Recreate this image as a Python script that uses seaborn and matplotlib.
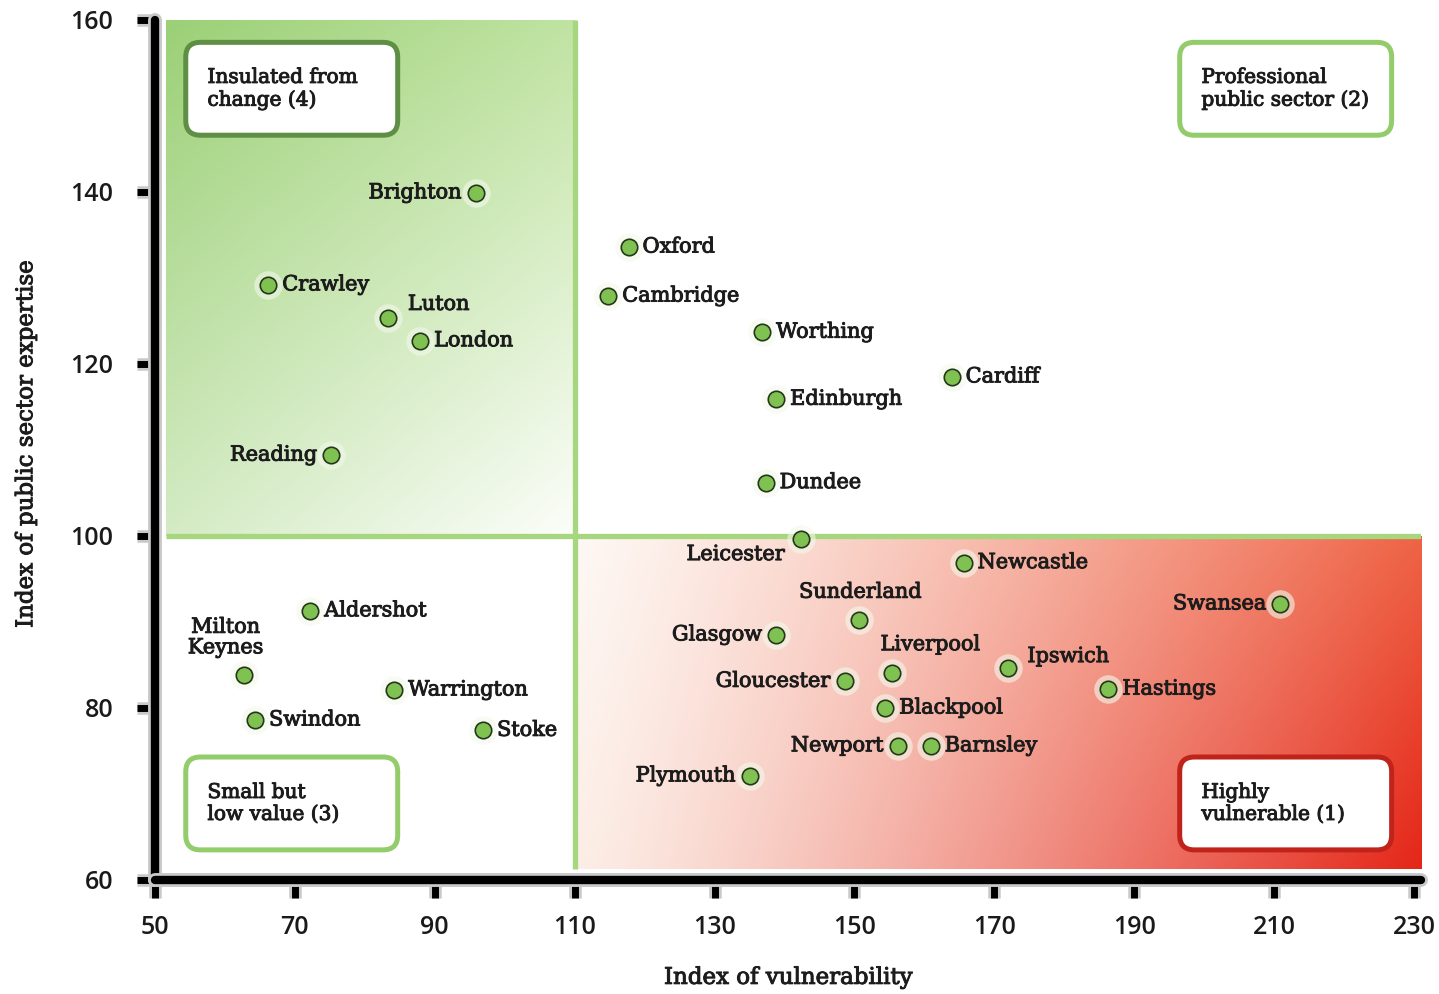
import matplotlib
matplotlib.use('Agg')
import matplotlib.pyplot as plt
import matplotlib.patheffects as pe
from matplotlib.patches import FancyBboxPatch
import numpy as np
import pandas as pd
import seaborn as sns

# values
cities = ['Brighton', 'Oxford', 'Cambridge', 'Crawley', 'Luton', 'London',
          'Worthing', 'Cardiff', 'Edinburgh', 'Reading', 'Dundee', 'Leicester',
          'Newcastle', 'Swansea', 'Aldershot', 'Sunderland', 'Glasgow',
          'Milton\nKeynes', 'Liverpool', 'Ipswich', 'Gloucester', 'Hastings',
          'Warrington', 'Blackpool', 'Swindon', 'Stoke', 'Newport', 'Barnsley',
          'Plymouth']
vulnerability = [95.9, 117.7, 114.8, 66.2, 83.3, 87.9,
                 136.8, 163.9, 138.8, 75.2, 137.3, 142.4,
                 165.6, 210.9, 72.2, 150.7, 138.8,
                 62.7, 155.3, 172.0, 148.6, 186.3,
                 84.2, 154.4, 64.3, 96.9, 156.2, 160.9,
                 135.1]
expertise = [139.9, 133.6, 127.9, 129.2, 125.3, 122.7,
             123.7, 118.5, 115.9, 109.4, 106.2, 99.7,
             96.9, 92.1, 91.3, 90.2, 88.5,
             83.8, 84.1, 84.7, 83.1, 82.2,
             82.1, 80.0, 78.6, 77.4, 75.6, 75.6,
             72.1]

quadrant_names = ['Insulated from\nchange (4)', 'Professional\npublic sector (2)',
                  'Small but\nlow value (3)', 'Highly\nvulnerable (1)']
x_ticks = [50, 70, 90, 110, 130, 150, 170, 190, 210, 230]
y_ticks = [60, 80, 100, 120, 140, 160]
x_split = 110
y_split = 100

df = pd.DataFrame({'city': cities, 'x': vulnerability, 'y': expertise})

# label placement: offset in pixels (dx, dy), ha, va
lab = {
    'Brighton': (-14, 0, 'right', 'center'),
    'Oxford': (14, 0, 'left', 'center'),
    'Cambridge': (14, 0, 'left', 'center'),
    'Crawley': (14, 0, 'left', 'center'),
    'Luton': (20, 14, 'left', 'center'),
    'London': (14, 0, 'left', 'center'),
    'Worthing': (14, 0, 'left', 'center'),
    'Cardiff': (14, 0, 'left', 'center'),
    'Edinburgh': (14, 0, 'left', 'center'),
    'Reading': (-14, 0, 'right', 'center'),
    'Dundee': (14, 0, 'left', 'center'),
    'Leicester': (-16, -16, 'right', 'center'),
    'Newcastle': (14, 0, 'left', 'center'),
    'Swansea': (-14, 0, 'right', 'center'),
    'Aldershot': (14, 0, 'left', 'center'),
    'Sunderland': (1, 28, 'center', 'center'),
    'Glasgow': (-14, 0, 'right', 'center'),
    'Milton\nKeynes': (-18, 18, 'center', 'bottom'),
    'Liverpool': (-11, 28, 'left', 'center'),
    'Ipswich': (19, 11, 'left', 'center'),
    'Gloucester': (-14, 0, 'right', 'center'),
    'Hastings': (14, 0, 'left', 'center'),
    'Warrington': (14, 0, 'left', 'center'),
    'Blackpool': (14, 0, 'left', 'center'),
    'Swindon': (14, 0, 'left', 'center'),
    'Stoke': (14, 0, 'left', 'center'),
    'Newport': (-14, 0, 'right', 'center'),
    'Barnsley': (14, 0, 'left', 'center'),
    'Plymouth': (-14, 0, 'right', 'center'),
}

sns.set_theme(style='white')
plt.rcParams['font.family'] = ['DejaVu Serif']

fig = plt.figure(figsize=(14.39, 9.94), dpi=100)
ax = fig.add_axes([0.1077, 0.1147, 0.8798, 0.8652])
xmin, xmax, ymin, ymax = 50, 231, 60, 160

# slightly heavier text, like the slab face of the original
heavy = [pe.withStroke(linewidth=0.7, foreground='#1c1c1c')]


def corner_gradient(tl, tr, bl, br, gamma=1.0, n=300):
    u = np.linspace(0, 1, n) ** gamma
    v = np.linspace(0, 1, n)
    U, V = np.meshgrid(u, v)
    tl, tr, bl, br = [np.array(c) / 255.0 for c in (tl, tr, bl, br)]
    img = ((1 - U)[..., None] * (1 - V)[..., None] * tl + U[..., None] * (1 - V)[..., None] * tr
           + (1 - U)[..., None] * V[..., None] * bl + U[..., None] * V[..., None] * br)
    return np.clip(img, 0, 1)


green = corner_gradient((155, 208, 118), (192, 227, 162), (212, 235, 196), (252, 254, 250))
ax.imshow(green, extent=(51.6, x_split, y_split, ymax), aspect='auto', zorder=0,
          interpolation='bilinear')
red = corner_gradient((254, 248, 244), (238, 100, 70), (252, 238, 230), (228, 38, 24), gamma=1.2)
ax.imshow(red, extent=(x_split, xmax, 61.3, y_split), aspect='auto', zorder=0,
          interpolation='bilinear')

line_col = '#a6d67e'
ax.plot([51.6, xmax], [y_split, y_split], color=line_col, lw=3.8, zorder=1, solid_capstyle='butt')
ax.plot([x_split, x_split], [61.3, ymax], color=line_col, lw=3.8, zorder=1, solid_capstyle='butt')

# quadrant boxes
box_pos = [(54.4, 146.6), (196.5, 146.6), (54.4, 63.5), (196.5, 63.5)]
box_edges = ['#5e8f45', '#93cc6a', '#93cc6a', '#c0231a']
bw, bh = 30.3, 10.8
for name, (bx, by), ec in zip(quadrant_names, box_pos, box_edges):
    patch = FancyBboxPatch((bx, by), bw, bh,
                           boxstyle='round,pad=0,rounding_size=2.1',
                           mutation_aspect=0.813, fc='white', ec=ec, lw=3.6, zorder=2)
    ax.add_patch(patch)
    ax.text(bx + 3.1, by + bh / 2, name, ha='left', va='center', fontsize=14.5,
            color='#1c1c1c', linespacing=1.2, zorder=3, path_effects=heavy)

# points with pale halo
sns.scatterplot(data=df, x='x', y='y', s=420, color='#f2f9ea', alpha=0.6,
                linewidth=0, ax=ax, zorder=3, legend=False)
sns.scatterplot(data=df, x='x', y='y', s=140, color='#7fc251',
                edgecolor='#26361c', linewidth=1.2, ax=ax, zorder=4, legend=False)

for c, x, y in zip(cities, vulnerability, expertise):
    dx, dy, ha, va = lab[c]
    ax.annotate(c, (x, y), xytext=(dx, dy), textcoords='offset pixels',
                ha=ha, va=va, fontsize=15, color='#1c1c1c', zorder=5,
                multialignment='center', linespacing=1.1, path_effects=heavy)

ax.set_xlim(xmin, xmax)
ax.set_ylim(ymin, ymax)
ax.set_xticks(x_ticks)
ax.set_yticks(y_ticks)
ax.set_xticklabels([str(t) for t in x_ticks], family='Open Sans', weight='semibold',
                   fontsize=18, color='#1a1a1a')
ax.set_yticklabels([str(t) for t in y_ticks], family='Open Sans', weight='semibold',
                   fontsize=18, color='#1a1a1a')
ax.tick_params(axis='both', direction='out', length=13, width=5, color='black',
               bottom=True, left=True)
ax.tick_params(axis='x', pad=12)
ax.tick_params(axis='y', pad=17)

halo = [pe.Stroke(linewidth=10, foreground='#c9c9c9'), pe.Normal()]
for side in ['top', 'right']:
    ax.spines[side].set_visible(False)
for side in ['left', 'bottom']:
    ax.spines[side].set_color('black')
    ax.spines[side].set_linewidth(6)
    ax.spines[side].set_path_effects(halo)
    ax.spines[side].set_capstyle('round')
for t in ax.xaxis.get_major_ticks() + ax.yaxis.get_major_ticks():
    t.tick1line.set_path_effects([pe.Stroke(linewidth=9, foreground='#c9c9c9'), pe.Normal()])

ax.set_xlabel('Index of vulnerability', fontsize=16.5, color='#1c1c1c', path_effects=heavy)
ax.set_ylabel('Index of public sector expertise', fontsize=16.5, color='#1c1c1c',
              path_effects=heavy)
ax.xaxis.set_label_coords(0.5, -0.101)
ax.yaxis.set_label_coords(-0.093, 0.506)
ax.grid(False)
ax.set_facecolor('white')

fig.savefig('out.png', dpi=100)
